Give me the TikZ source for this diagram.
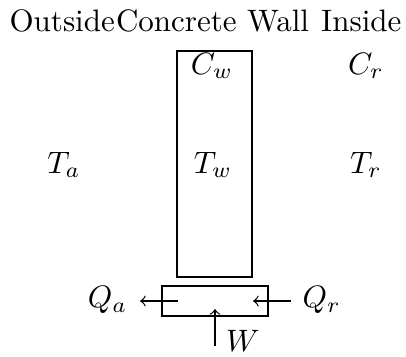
\documentclass[tikz,border=0pt]{standalone}
\begin{document}
\begin{tikzpicture}[x=0.3226pt,y=-0.3226pt,
  lbl/.style={inner sep=0pt},
  wallbox/.style={draw,line width=0.7pt,inner sep=0pt,minimum width=24.2pt,minimum height=72.9pt},
  sumbox/.style={draw,line width=0.4pt,inner sep=0pt,minimum width=34.2pt,minimum height=9.7pt},
  flow/.style={->,line width=0.4pt}]
\useasboundingbox (0,0) rectangle (406,356);
\node[lbl,anchor=base west] (out) at (9,31) {Outside};
\node[lbl,anchor=base west] (cwall) at (out.base east) {Concrete Wall};
\node[lbl,anchor=base east] (in) at (402,31) {Inside};
\node[wallbox] (wall) at (214.5,164) {};
\node[sumbox] (sum) at (215,301) {};
\node[lbl] (Cw) at (212,66) {$C_w$};
\node[lbl] (Cr) at (366,66) {$C_r$};
\node[lbl] (Ta) at (64,165) {$T_a$};
\node[lbl] (Tw) at (213,165) {$T_w$};
\node[lbl] (Tr) at (366,165) {$T_r$};
\node[lbl,anchor=east] (Qa) at (128,300) {$Q_a$};
\node[lbl,anchor=west] (Qr) at (302,300) {$Q_r$};
\node[lbl] (W) at (243,341) {$W$};
\coordinate (a1) at (178,301);
\coordinate (a2) at (140,301);
\coordinate (r1) at (291,301);
\coordinate (r2) at (253,301);
\coordinate (w1) at (215,346);
\coordinate (w2) at (215,309);
\draw[flow] (a1) -- (a2);
\draw[flow] (r1) -- (r2);
\draw[flow] (w1) -- (w2);
\end{tikzpicture}
\end{document}
